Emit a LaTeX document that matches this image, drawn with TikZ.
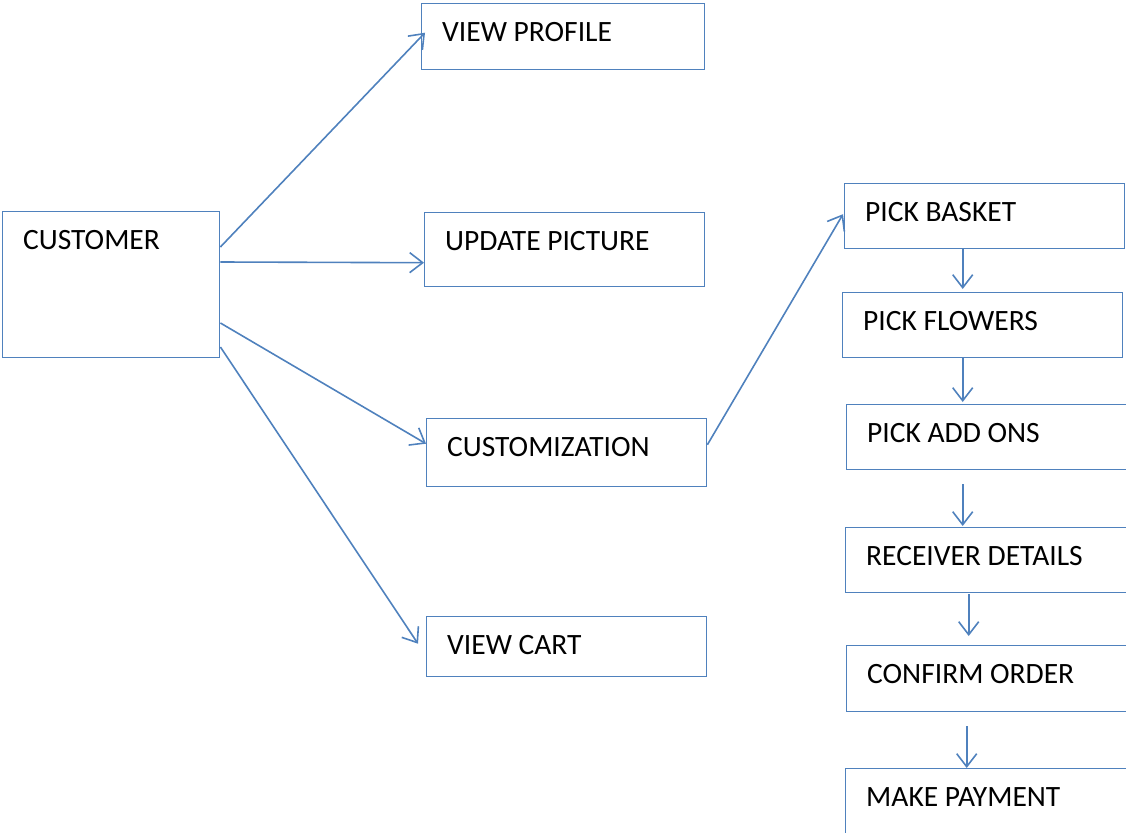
\documentclass[tikz,border=0pt]{standalone}
\usepackage{fontspec}
\setmainfont{Carlito}
\usetikzlibrary{arrows.meta,calc}
\definecolor{officeblue}{HTML}{4F81BD}
\begin{document}
\begin{tikzpicture}[>={Straight Barb[length=13pt,width=20pt]},x=1pt,y=-1pt,
		font=\fontsize{29.5}{35}\selectfont,
		box/.style={draw=officeblue,line width=1.4pt,anchor=north west,inner sep=0pt,
			label={[boxtext]north west:#1}},
		boxtext/.style={anchor=north west,inner sep=0pt,xshift=21pt,yshift=-19pt},
		flow/.style={->,draw=officeblue,line width=1.6pt}]
		\useasboundingbox (0,0) rectangle (1126,832);
		\node [box=CUSTOMER,minimum width=217pt,minimum height=146pt] (customer) at (2,211) {};
		\node [box=VIEW PROFILE,minimum width=283pt,minimum height=66pt] (viewprofile) at (421,3) {};
		\node [box=UPDATE PICTURE,minimum width=280pt,minimum height=74pt] (updatepicture) at (424,212) {};
		\node [box=CUSTOMIZATION,minimum width=280pt,minimum height=68pt] (customization) at (426,418) {};
		\node [box=VIEW CART,minimum width=280pt,minimum height=60pt] (viewcart) at (426,616) {};
		\node [box=PICK BASKET,minimum width=280pt,minimum height=65pt] (pickbasket) at (844,183) {};
		\node [box=PICK FLOWERS,minimum width=280pt,minimum height=65pt] (pickflowers) at (842,292) {};
		\node [box=PICK ADD ONS,minimum width=280pt,minimum height=65pt] (pickaddons) at (846,404) {};
		\node [box=RECEIVER DETAILS,minimum width=281pt,minimum height=65pt] (receiver) at (845,527) {};
		\node [box=CONFIRM ORDER,minimum width=280pt,minimum height=66pt] (confirm) at (846,645) {};
		\node [box=MAKE PAYMENT,minimum width=281pt,minimum height=80pt] (payment) at (845,768) {};
		% customer menu
		\draw [flow] ($(customer.north east)+(0,36)$) -- ($(viewprofile.west)+(4,-4)$);
		\draw [flow] ($(customer.north east)+(0,51)$) -- ($(updatepicture.west)+(0,13)$);
		\draw [flow] ($(customer.north east)+(0,112)$) -- ($(customization.west)+(0,-9)$);
		\draw [flow] ($(customer.north east)+(0,136)$) -- ($(viewcart.west)+(-8,-3)$);
		% customization steps
		\draw [flow] ($(customization.east)+(0,-8)$) -- ($(pickbasket.west)+(-1,-2)$);
		\draw [flow] ($(pickbasket.south)+(-22,0)$) -- ($(pickflowers.north)+(-20,-3)$);
		\draw [flow] ($(pickflowers.south)+(-20,0)$) -- ($(pickaddons.north)+(-24,-2)$);
		\draw [flow] ($(pickaddons.south)+(-24,14)$) -- ($(receiver.north)+(-23.5,-1)$);
		\draw [flow] ($(receiver.south)+(-17.5,1)$) -- ($(confirm.north)+(-18,-9)$);
		\draw [flow] ($(confirm.south)+(-20,14)$) -- ($(payment.north)+(-19.5,0)$);
	\end{tikzpicture}
\end{document}
